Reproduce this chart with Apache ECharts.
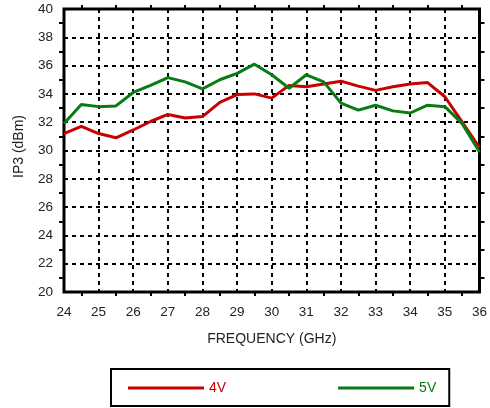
<!DOCTYPE html>
<html>
<head>
<meta charset="utf-8">
<script src="https://cdn.jsdelivr.net/npm/echarts@6/dist/echarts.min.js"></script>
<style>
  html, body { margin: 0; padding: 0; background: #fff; }
  #chart { width: 490px; height: 408px; }
</style>
</head>
<body>
<div id="chart"></div>
<script>
// frequency points (GHz)
const freq = [24, 24.5, 25, 25.5, 26, 26.5, 27, 27.5, 28, 28.5, 29, 29.5, 30,
  30.5, 31, 31.5, 32, 32.5, 33, 33.5, 34, 34.5, 35, 35.5, 36];

// IP3 (dBm)
const ip3_4V = [31.2, 31.7, 31.2, 30.9, 31.45, 32.05, 32.55, 32.3, 32.4, 33.4, 33.95, 34.0, 33.7,
  34.6, 34.5, 34.7, 34.9, 34.55, 34.25, 34.5, 34.7, 34.8, 33.8, 32.0, 30.2];
const ip3_5V = [31.9, 33.25, 33.1, 33.15, 34.1, 34.6, 35.15, 34.85, 34.35, 35.0, 35.45, 36.1, 35.35,
  34.4, 35.35, 34.85, 33.35, 32.85, 33.2, 32.8, 32.65, 33.2, 33.1, 31.9, 29.9];

const red = "#c80000";
const green = "#0a7a14";
const font = "Liberation Sans";

const chart = echarts.init(document.getElementById("chart"));

const toPairs = (ys) => freq.map((f, i) => [f, ys[i]]);

const hiddenAxisBase = {
  axisLabel: { show: false },
  splitLine: { show: false },
  axisLine: { show: false },
};

chart.setOption({
  animation: false,
  textStyle: { fontFamily: font },
  grid: {
    left: 64, right: 8, top: 9, bottom: 116,
    show: true, borderColor: "#000", borderWidth: 3,
  },
  legend: {
    left: 111, top: 369,
    padding: [12, 13, 11, 17],
    itemGap: 112,
    itemWidth: 76, itemHeight: 3,
    icon: "rect",
    borderColor: "#000", borderWidth: 2,
    textStyle: { fontFamily: font, fontSize: 14 },
    data: [
      { name: "4V", textStyle: { color: red } },
      { name: "5V", textStyle: { color: green } },
    ],
  },
  xAxis: [
    {
      type: "value", min: 24, max: 36, interval: 1,
      name: "FREQUENCY (GHz)", nameLocation: "middle", nameGap: 40,
      nameTextStyle: { fontSize: 14, color: "#222" },
      axisLine: { show: false },
      axisTick: { show: false },
      minorTick: { show: true, splitNumber: 2, length: 4, lineStyle: { color: "#000", width: 2 } },
      axisLabel: { fontSize: 13.5, color: "#222", margin: 13 },
      splitLine: { show: true, lineStyle: { color: "#000", width: 2, type: [4, 4] } },
    },
    Object.assign({
      type: "value", min: 24, max: 36, interval: 1, position: "top",
      axisTick: { show: false },
      minorTick: { show: true, splitNumber: 2, length: 4, lineStyle: { color: "#000", width: 2 } },
    }, hiddenAxisBase),
  ],
  yAxis: [
    {
      type: "value", min: 20, max: 40, interval: 2,
      name: "IP3 (dBm)", nameLocation: "middle", nameGap: 38,
      nameTextStyle: { fontSize: 14, color: "#222", padding: [0, 0, 0, 8] },
      axisLine: { show: false },
      axisTick: { show: false },
      minorTick: { show: true, splitNumber: 2, length: 5, lineStyle: { color: "#000", width: 2 } },
      axisLabel: { fontSize: 13.5, color: "#222", margin: 11 },
      splitLine: { show: true, lineStyle: { color: "#000", width: 2, type: [4, 4] } },
    },
    Object.assign({
      type: "value", min: 20, max: 40, interval: 2, position: "right",
      axisTick: { show: false },
      minorTick: { show: true, splitNumber: 2, length: 5, lineStyle: { color: "#000", width: 2 } },
    }, hiddenAxisBase),
  ],
  series: [
    {
      name: "4V", type: "line", data: toPairs(ip3_4V),
      showSymbol: false, color: red,
      lineStyle: { color: red, width: 3 },
    },
    {
      name: "5V", type: "line", data: toPairs(ip3_5V),
      showSymbol: false, color: green,
      lineStyle: { color: green, width: 3 },
    },
  ],
});
</script>
</body>
</html>
